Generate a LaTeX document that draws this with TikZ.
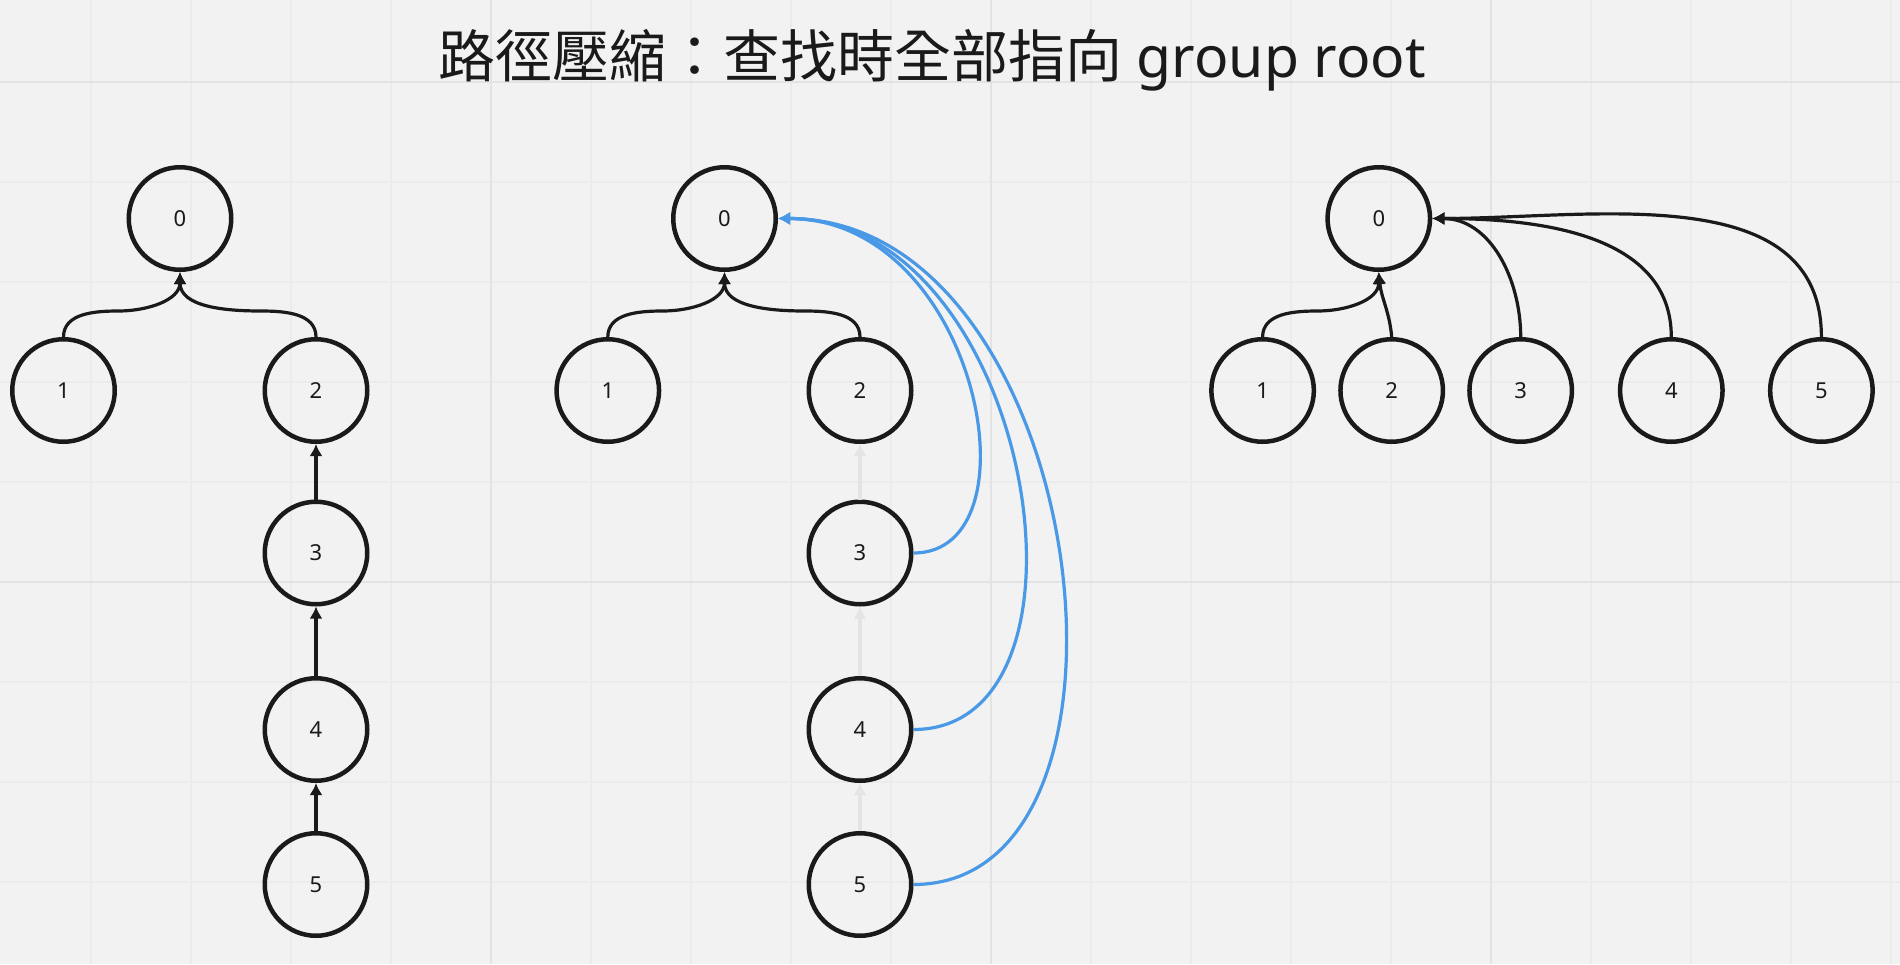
\documentclass[tikz,border=0pt]{standalone}
\usepackage{fontspec}
\setmainfont{Noto Sans}
\newfontfamily\cjkfont{Noto Sans CJK TC}
\usepackage{tikz}
\usetikzlibrary{arrows.meta,calc}
\usepackage{xcolor}
\definecolor{BoardGray}{HTML}{F2F2F2}
\definecolor{GridMinor}{HTML}{EBEBEB}
\definecolor{GridMajor}{HTML}{E3E3E3}
\definecolor{InkBlack}{HTML}{1A1A1A}
\definecolor{FadedGray}{HTML}{E4E4E4}
\definecolor{PathBlue}{HTML}{4A99E6}

\tikzset{
  vertex/.style={circle,draw=InkBlack,line width=4.5pt,minimum size=102.5pt,inner sep=0pt,
    text=InkBlack,font=\fontsize{22}{22}\selectfont},
  treelink/.style={draw=InkBlack,line width=3.2pt,-{Latex[length=12pt,width=13pt]}},
  fadedlink/.style={treelink,draw=FadedGray},
  findlink/.style={treelink,draw=PathBlue},
}

\begin{document}
\begin{tikzpicture}[x=1pt,y=1pt]
   \useasboundingbox (0,0) rectangle (1900,-964);
   \fill[BoardGray] (0,0) rectangle (1900,-964);
   \foreach \gx in {91,191,...,1891}
     \draw[GridMinor,line width=1.5pt] (\gx,0) -- (\gx,-964);
   \foreach \gy in {82,182,...,982}
     \draw[GridMinor,line width=1.5pt] (0,-\gy) -- (1900,-\gy);
   \foreach \gx in {491,991,1491}
     \draw[GridMajor,line width=2.5pt] (\gx,0) -- (\gx,-964);
   \foreach \gy in {82,582}
     \draw[GridMajor,line width=2.5pt] (0,-\gy) -- (1900,-\gy);

   \node[anchor=base,text=InkBlack,font=\fontsize{57}{57}\selectfont] (title) at (932,-77)
     {{\cjkfont 路徑壓縮：查找時全部指向} group root};

   \node[vertex] (l0) at (180,-218.5) {0};
   \node[vertex] (l1) at (63.5,-390.5) {1};
   \node[vertex] (l2) at (316,-390.5) {2};
   \node[vertex] (l3) at (316,-553) {3};
   \node[vertex] (l4) at (316,-729.5) {4};
   \node[vertex] (l5) at (316,-884.5) {5};

   \draw[treelink] (l1.north) to[out=90,in=180] ($(l1.north)+(55,26)$)
     to[out=0,in=-90] (l0.south);
   \draw[treelink] (l2.north) to[out=90,in=0] ($(l2.north)+(-55,26)$)
     to[out=180,in=-90] (l0.south);
   \draw[treelink] (l3.north) -- (l2.south);
   \draw[treelink] (l4.north) -- (l3.south);
   \draw[treelink] (l5.north) -- (l4.south);

   \node[vertex] (m0) at (724.5,-218.5) {0};
   \node[vertex] (m1) at (607.8,-390.5) {1};
   \node[vertex] (m2) at (860,-390.5) {2};
   \node[vertex] (m3) at (860,-553) {3};
   \node[vertex] (m4) at (860,-729.5) {4};
   \node[vertex] (m5) at (860,-884.5) {5};

   \draw[treelink] (m1.north) to[out=90,in=180] ($(m1.north)+(55,26)$)
     to[out=0,in=-90] (m0.south);
   \draw[treelink] (m2.north) to[out=90,in=0] ($(m2.north)+(-55,26)$)
     to[out=180,in=-90] (m0.south);
   \draw[fadedlink] (m3.north) -- (m2.south);
   \draw[fadedlink] (m4.north) -- (m3.south);
   \draw[fadedlink] (m5.north) -- (m4.south);

   \draw[findlink] (m3.east) .. controls ($(m3.east)+(128,0)$) and ($(m0.east)+(200,0)$) .. (m0.east);
   \draw[findlink] (m4.east) .. controls ($(m4.east)+(200,0)$) and ($(m0.east)+(255,0)$) .. (m0.east);
   \draw[findlink] (m5.east) .. controls ($(m5.east)+(255,0)$) and ($(m0.east)+(312,0)$) .. (m0.east);

   \node[vertex] (r0) at (1378.8,-218.5) {0};
   \node[vertex] (r1) at (1262.6,-390.5) {1};
   \node[vertex] (r2) at (1391.7,-390.5) {2};
   \node[vertex] (r3) at (1520.7,-390.5) {3};
   \node[vertex] (r4) at (1671.3,-390.5) {4};
   \node[vertex] (r5) at (1821.4,-390.5) {5};

   \draw[treelink] (r1.north) to[out=90,in=180] ($(r1.north)+(55,26)$)
     to[out=0,in=-90] (r0.south);
   \draw[treelink] (r2.north) to[out=95,in=-85] (r0.south);
   \draw[treelink] (r3.north) to[out=90,in=0] (r0.east);
   \draw[treelink] (r4.north) to[out=90,in=0] (r0.east);
   \draw[treelink] (r5.north) to[out=90,in=0] (r0.east);
\end{tikzpicture}
\end{document}
